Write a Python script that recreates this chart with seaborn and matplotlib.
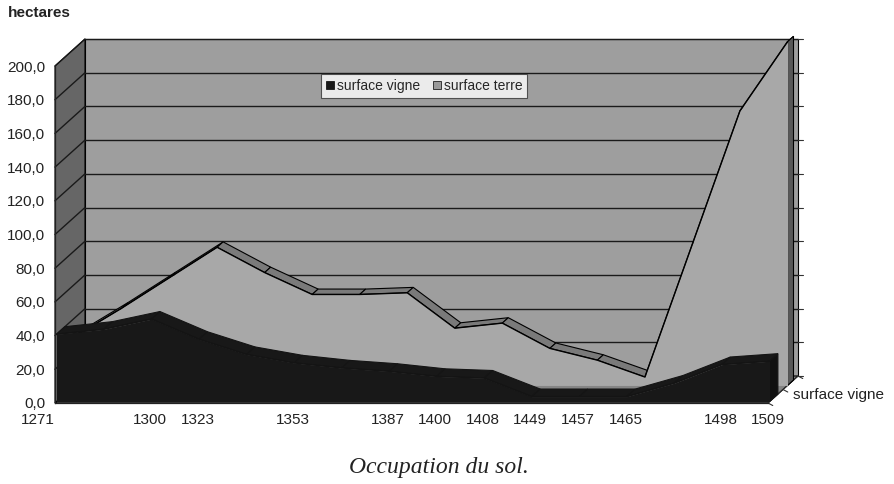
import numpy as np
import matplotlib
matplotlib.use("Agg")
import matplotlib.pyplot as plt
from matplotlib.patches import Polygon, Patch
import seaborn as sns

# donnees (hectares)
annees = ['1271', '', '1300', '1323', '', '1353', '', '1387', '1400', '1408',
          '1449', '1457', '1465', '', '1498', '1509']
surface_vigne = [40, 43, 49, 37, 28, 23, 20, 18, 15, 14, 3, 3, 3, 11, 22, 24]
surface_terre = [29, 46, 64, 82, 67, 54, 54, 55, 34, 37, 22, 15, 5, 84, 163, 204]
graduations = list(range(0, 201, 20))

sns.set_style("white")
plt.rcParams['font.family'] = ['Liberation Sans', 'DejaVu Sans']

W, H = 895, 484
fig = plt.figure(figsize=(W / 100, H / 100), dpi=100)
ax = fig.add_axes([55 / W, 81 / H, 713 / W, 337 / H])

n = len(annees)
x = np.arange(n)
ax.set_xlim(0, n - 1)
ax.set_ylim(0, 200)

# decalage de profondeur (effet 3D), en unites de donnees
DX = 30 / (713 / (n - 1))
DY = 27 / (337 / 200)


def pt(xv, yv, d):
    return (xv + d * DX, yv + d * DY)


def poly(pts, fc, z, ec='black', lw=0.8):
    ax.add_patch(Polygon(pts, closed=True, fc=fc, ec=ec, lw=lw,
                         zorder=z, clip_on=False))


xmax = n - 1
# parois
poly([pt(0, 0, 1), pt(xmax, 0, 1), pt(xmax, 200, 1), pt(0, 200, 1)], '#9e9e9e', 1)
poly([pt(0, 0, 0), pt(0, 200, 0), pt(0, 200, 1), pt(0, 0, 1)], '#666666', 1)
poly([pt(0, 0, 0), pt(xmax, 0, 0), pt(xmax, 0, 1), pt(0, 0, 1)], '#858585', 1)

for v in graduations[1:]:
    ax.plot([DX, xmax + DX], [v + DY] * 2, color='#1a1a1a', lw=1.0,
            zorder=2, clip_on=False)
    ax.plot([0, DX], [v, v + DY], color='#1a1a1a', lw=1.0,
            zorder=2, clip_on=False)
for v in graduations:
    ax.plot([xmax + DX, xmax + DX + 0.1], [v + DY] * 2, color='#333333',
            lw=0.8, zorder=2, clip_on=False)

# axe de profondeur
ax.plot([xmax, xmax + DX], [0, DY], color='#333333', lw=0.8, zorder=2, clip_on=False)
for d in (0, 0.5, 1):
    ax.plot([xmax + d * DX, xmax + d * DX + 0.1], [d * DY, d * DY - 1.5],
            color='#333333', lw=0.8, zorder=2, clip_on=False)
ax.text(xmax + DX * 0.85, DY * 0.3, 'surface vigne', fontsize=11,
        color='#222222', ha='left', va='center')


def serie(vals, d0, d1, face, top, cap, z, edge='black'):
    vals = np.asarray(vals, dtype=float)
    for i in range(n - 1):
        poly([pt(x[i], vals[i], d0), pt(x[i + 1], vals[i + 1], d0),
              pt(x[i + 1], vals[i + 1], d1), pt(x[i], vals[i], d1)], top, z, ec=edge)
    poly([pt(xmax, 0, d0), pt(xmax, vals[-1], d0),
          pt(xmax, vals[-1], d1), pt(xmax, 0, d1)], cap, z, ec=edge)
    xf = x + d0 * DX
    ax.fill_between(xf, d0 * DY, vals + d0 * DY, color=face, lw=0,
                    zorder=z + 1, clip_on=False)
    sns.lineplot(x=xf, y=vals + d0 * DY, color=edge, lw=1.0, ax=ax,
                 zorder=z + 2, clip_on=False)


serie(surface_terre, 0.65, 0.85, '#a8a8a8', '#7a7a7a', '#585858', 3)
serie(surface_vigne, 0.05, 0.33, '#181818', '#181818', '#101010', 6, edge='#141414')

# axes
ax.set_xticks(x)
ax.set_xticklabels(annees)
ax.get_xticklabels()[0].set_ha('right')
ax.set_yticks(graduations)
ax.set_yticklabels([f"{v:.1f}".replace('.', ',') for v in graduations])
ax.tick_params(axis='both', direction='out', length=4, width=0.8,
               color='#222222', labelsize=11, labelcolor='#222222', pad=3)
sns.despine(ax=ax, top=True, right=True)
for s in ('left', 'bottom'):
    ax.spines[s].set_color('#222222')
    ax.spines[s].set_linewidth(0.9)
    ax.spines[s].set_zorder(10)
ax.patch.set_alpha(0)

handles = [Patch(fc='#181818', ec='black', lw=0.5),
           Patch(fc='#9a9a9a', ec='black', lw=0.5)]
leg = ax.legend(handles, ['surface vigne', 'surface terre'], ncol=2,
                loc='upper left', bbox_to_anchor=(0.373, 0.976),
                fontsize=10, frameon=True, fancybox=False, borderpad=0.35,
                handlelength=0.6, handleheight=0.6, handletextpad=0.2,
                columnspacing=0.9, borderaxespad=0)
leg.get_frame().set_edgecolor('#333333')
leg.get_frame().set_linewidth(0.8)
leg.get_frame().set_facecolor('white')
leg.set_zorder(20)

fig.text(8 / W, 1 - 13 / H, 'hectares', fontsize=11, fontweight='bold',
         color='#222222', ha='left', va='center')
fig.text(439 / W, 1 - 468 / H, 'Occupation du sol.', fontsize=17,
         family=['Liberation Serif', 'DejaVu Serif'], style='italic',
         color='#222222', ha='center', va='center')

fig.savefig('out.png', dpi=100, facecolor='white')
